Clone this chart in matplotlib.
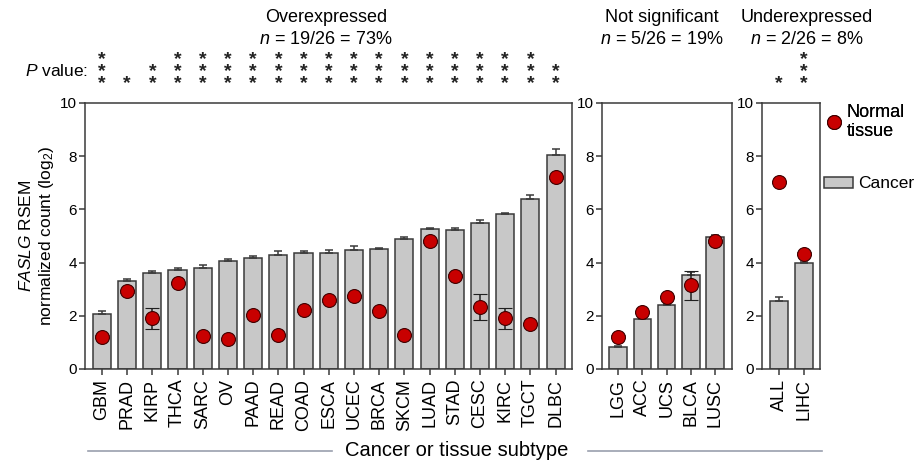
import matplotlib
matplotlib.use("Agg")
import matplotlib.pyplot as plt
from matplotlib.lines import Line2D
from matplotlib.patches import Patch

plt.rcParams['font.family'] = ['Liberation Sans', 'DejaVu Sans']
plt.rcParams['mathtext.fontset'] = 'custom'
plt.rcParams['mathtext.rm'] = 'Liberation Sans'
plt.rcParams['mathtext.it'] = 'Liberation Sans:italic'

# ---- data ----
over_types = ['GBM', 'PRAD', 'KIRP', 'THCA', 'SARC', 'OV', 'PAAD', 'READ', 'COAD', 'ESCA',
              'UCEC', 'BRCA', 'SKCM', 'LUAD', 'STAD', 'CESC', 'KIRC', 'TGCT', 'DLBC']
over_cancer = [2.07, 3.32, 3.62, 3.73, 3.78, 4.05, 4.16, 4.29, 4.36, 4.36,
               4.49, 4.52, 4.87, 5.26, 5.24, 5.48, 5.81, 6.40, 8.03]
over_cancer_err = [0.12, 0.06, 0.05, 0.07, 0.14, 0.07, 0.10, 0.13, 0.06, 0.11,
                   0.12, 0.03, 0.11, 0.03, 0.07, 0.12, 0.05, 0.13, 0.24]
over_normal = [1.22, 2.92, 1.90, 3.23, 1.23, 1.13, 2.03, 1.29, 2.20, 2.58,
               2.73, 2.19, 1.28, 4.80, 3.51, 2.33, 1.90, 1.69, 7.20]
over_normal_err = [0.04, 0.05, 0.38, 0.05, 0.04, 0.04, 0.05, 0.04, 0.05, 0.05,
                   0.05, 0.04, 0.04, 0.05, 0.05, 0.50, 0.38, 0.04, 0.05]
over_stars = [3, 1, 2, 3, 3, 3, 3, 3, 3, 3, 3, 3, 3, 3, 3, 3, 3, 3, 2]

ns_types = ['LGG', 'ACC', 'UCS', 'BLCA', 'LUSC']
ns_cancer = [0.84, 1.89, 2.42, 3.54, 4.98]
ns_cancer_err = [0.04, 0.02, 0.02, 0.12, 0.04]
ns_normal = [1.22, 2.14, 2.72, 3.15, 4.80]
ns_normal_err = [0.04, 0.04, 0.04, 0.55, 0.05]
ns_stars = [0, 0, 0, 0, 0]

under_types = ['ALL', 'LIHC']
under_cancer = [2.56, 4.00]
under_cancer_err = [0.13, 0.03]
under_normal = [7.02, 4.33]
under_normal_err = [0.04, 0.05]
under_stars = [1, 3]

groups = [
    ('Overexpressed', '$\\mathit{n}$ = 19/26 = 73%'),
    ('Not significant', '$\\mathit{n}$ = 5/26 = 19%'),
    ('Underexpressed', '$\\mathit{n}$ = 2/26 = 8%'),
]

# ---- style ----
BAR_COLOR = '#c8c8c8'
EDGE = '#3a3a3a'
RED = '#c80000'
W, H = 918, 462

fig = plt.figure(figsize=(W / 100, H / 100), dpi=100)


def px_axes(x0, x1, y_top, y_bot):
    return fig.add_axes([x0 / W, 1 - y_bot / H, (x1 - x0) / W, (y_bot - y_top) / H])


ax1 = px_axes(85, 572, 103, 369)
ax2 = px_axes(602, 732, 103, 369)
ax3 = px_axes(762, 820, 103, 369)

panels = [
    (ax1, over_types, over_cancer, over_cancer_err, over_normal, over_normal_err, over_stars, (-0.67, 18.65)),
    (ax2, ns_types, ns_cancer, ns_cancer_err, ns_normal, ns_normal_err, ns_stars, (-0.66, 4.69)),
    (ax3, under_types, under_cancer, under_cancer_err, under_normal, under_normal_err, under_stars, (-0.68, 1.64)),
]

for ax, types, cancer, cerr, normal, nerr, stars, xlim in panels:
    x = list(range(len(types)))
    ax.bar(x, cancer, width=0.72, color=BAR_COLOR, edgecolor=EDGE, linewidth=1.1, zorder=2)
    ax.errorbar(x, cancer, yerr=[[0] * len(x), cerr], fmt='none', ecolor=EDGE,
                elinewidth=1.1, capsize=3, capthick=1.1, zorder=3)
    ax.errorbar(x, normal, yerr=nerr, fmt='o', ms=10, mfc=RED, mec='#400000', mew=0.8,
                ecolor='#202020', elinewidth=1.1, capsize=5, capthick=1.1, zorder=4)
    ax.set_xlim(*xlim)
    ax.set_ylim(0, 10)
    ax.set_yticks([0, 2, 4, 6, 8, 10])
    ax.set_xticks(x)
    ax.set_xticklabels(types, rotation=90, fontsize=13)
    ax.tick_params(axis='both', direction='out', length=4, width=1.1, color=EDGE, pad=2)
    ax.tick_params(axis='x', pad=3)
    ax.tick_params(axis='y', labelsize=11)
    for sp in ax.spines.values():
        sp.set_color(EDGE)
        sp.set_linewidth(1.1)
    # significance stars, one stacked text above each bar
    for i, n in enumerate(stars):
        if n:
            ax.annotate('\n'.join(['*'] * n), xy=(i, 1), xycoords=ax.get_xaxis_transform(),
                        xytext=(0, 8.2), textcoords='offset points',
                        ha='center', va='bottom', fontsize=14, fontweight='bold',
                        linespacing=0.6, color='#222222', annotation_clip=False)

ax1.set_ylabel('$\\mathit{FASLG}$ RSEM\nnormalized count (log$_2$)', fontsize=12.5)
ax1.yaxis.set_label_coords(-0.06, 0.5)

# group headings
for (title, nline), xc in zip(groups, [326, 662, 807]):
    fig.text(xc / W, 1 - 17 / H, title, ha='center', va='center', fontsize=13)
    fig.text(xc / W, 1 - 40 / H, nline, ha='center', va='center', fontsize=13)

fig.text(88 / W, 1 - 71 / H, '$\\mathit{P}$ value:', ha='right', va='center', fontsize=12.5)

# legend (two single-entry legends so each handle can have its own size)
normal_handle = Line2D([], [], marker='o', ls='none', ms=10, mfc=RED, mec='#400000', mew=0.8)
cancer_handle = Patch(facecolor=BAR_COLOR, edgecolor=EDGE, linewidth=1.1)
leg1 = fig.legend([normal_handle], ['Normal\ntissue'], loc='center left',
                  bbox_to_anchor=(826 / W, 1 - 122 / H), frameon=False, fontsize=13,
                  handlelength=0.9, handletextpad=0.25, borderaxespad=0, borderpad=0)
fig.legend([cancer_handle], ['Cancer'], loc='center left',
           bbox_to_anchor=(824 / W, 1 - 184 / H), frameon=False, fontsize=12.5,
           handlelength=1.65, handleheight=0.55, handletextpad=0.3,
           borderaxespad=0, borderpad=0)
fig.add_artist(leg1)

# x axis caption with flanking rules
fig.text(457 / W, 1 - 450 / H, 'Cancer or tissue subtype', ha='center', va='center', fontsize=14.5)
fig.add_artist(Line2D([88 / W, 332 / W], [1 - 451 / H] * 2, color='#9aa0ae', lw=1.2))
fig.add_artist(Line2D([588 / W, 822 / W], [1 - 451 / H] * 2, color='#9aa0ae', lw=1.2))

fig.savefig('out.png', dpi=100)
